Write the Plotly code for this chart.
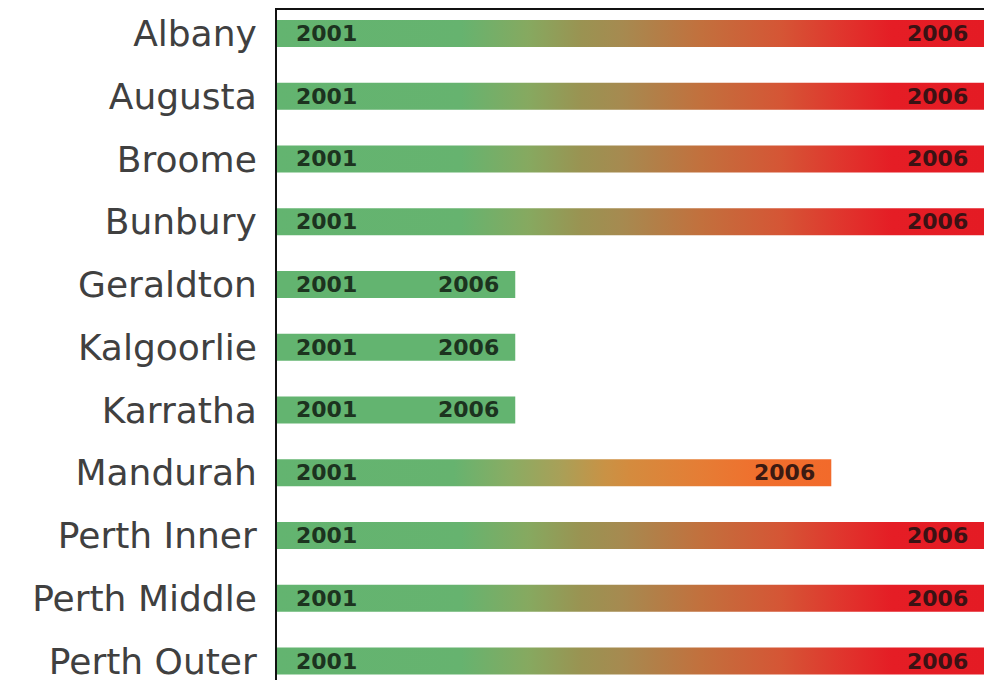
import plotly.graph_objects as go

# Regions, top to bottom
regions = ["Albany", "Augusta", "Broome", "Bunbury", "Geraldton", "Kalgoorlie",
           "Karratha", "Mandurah", "Perth Inner", "Perth Middle", "Perth Outer"]
# Bar extent on a 0-100 scale
extent = [100, 100, 100, 100, 33.7, 33.7, 33.7, 78.4, 100, 100, 100]
start_label = "2001"
end_label = "2006"

# Colour ramps keyed by absolute position on the x scale
RAMP_FULL = [(0, "#63b470"), (26, "#66b36f"), (35.5, "#86a960"), (43, "#9a9352"),
             (48.8, "#a68a50"), (60, "#c2703d"), (71.4, "#d55535"), (79.9, "#e0352d"),
             (87, "#e51d25"), (100, "#e41b24")]
RAMP_MID = [(0, "#63b470"), (25, "#66b36f"), (33, "#8aac63"), (40, "#a8a058"),
            (46.4, "#c99245"), (49.9, "#d48b3e"), (59.8, "#e57d35"), (68.3, "#f06f2d"),
            (78.4, "#f26a2b")]
GREEN = "#63b470"
HALF = 0.215  # half bar thickness in category units


def ramp_for(v):
    if v >= 99:
        stops = RAMP_FULL
    elif v > 50:
        stops = RAMP_MID
    else:
        return [[0, GREEN], [1, GREEN]]
    return [[min(p / v, 1.0), c] for p, c in stops if p <= v + 1e-9]


fig = go.Figure()
for i, (name, v) in enumerate(zip(regions, extent)):
    fig.add_trace(go.Scatter(
        x=[0, v, v, 0, 0],
        y=[i - HALF, i - HALF, i + HALF, i + HALF, i - HALF],
        mode="lines", line=dict(width=0),
        fill="toself",
        fillgradient=dict(type="horizontal", colorscale=ramp_for(v), start=0, stop=v),
        hoverinfo="skip", showlegend=False, name=name,
    ))
    fig.add_annotation(x=0, y=i, text=start_label, showarrow=False,
                       xanchor="left", yanchor="middle", xshift=17,
                       font=dict(family="DejaVu Sans", size=22, color="#1c331f", weight="bold"))
    end_col = "#1c331f" if v < 50 else ("#3b1a12" if v < 99 else "#3a1214")
    fig.add_annotation(x=v, y=i, text=end_label, showarrow=False,
                       xanchor="right", yanchor="middle", xshift=-14,
                       font=dict(family="DejaVu Sans", size=22, color=end_col, weight="bold"))

fig.update_xaxes(range=[0, 100], side="top", showline=True, linecolor="#111", linewidth=2,
                 showgrid=False, zeroline=False, showticklabels=False, ticks="")
fig.update_yaxes(range=[10.302, -0.373], tickvals=list(range(len(regions))), ticktext=regions,
                 showline=True, linecolor="#111", linewidth=2, showgrid=False, zeroline=False,
                 ticks="", ticklabelstandoff=11, ticklabeloverflow="allow",
                 tickfont=dict(family="DejaVu Sans", size=36, color="#404040"))
fig.update_layout(width=984, height=682, margin=dict(l=277, r=0, t=10, b=0),
                  paper_bgcolor="white", plot_bgcolor="white")
fig.write_html("out.html")
